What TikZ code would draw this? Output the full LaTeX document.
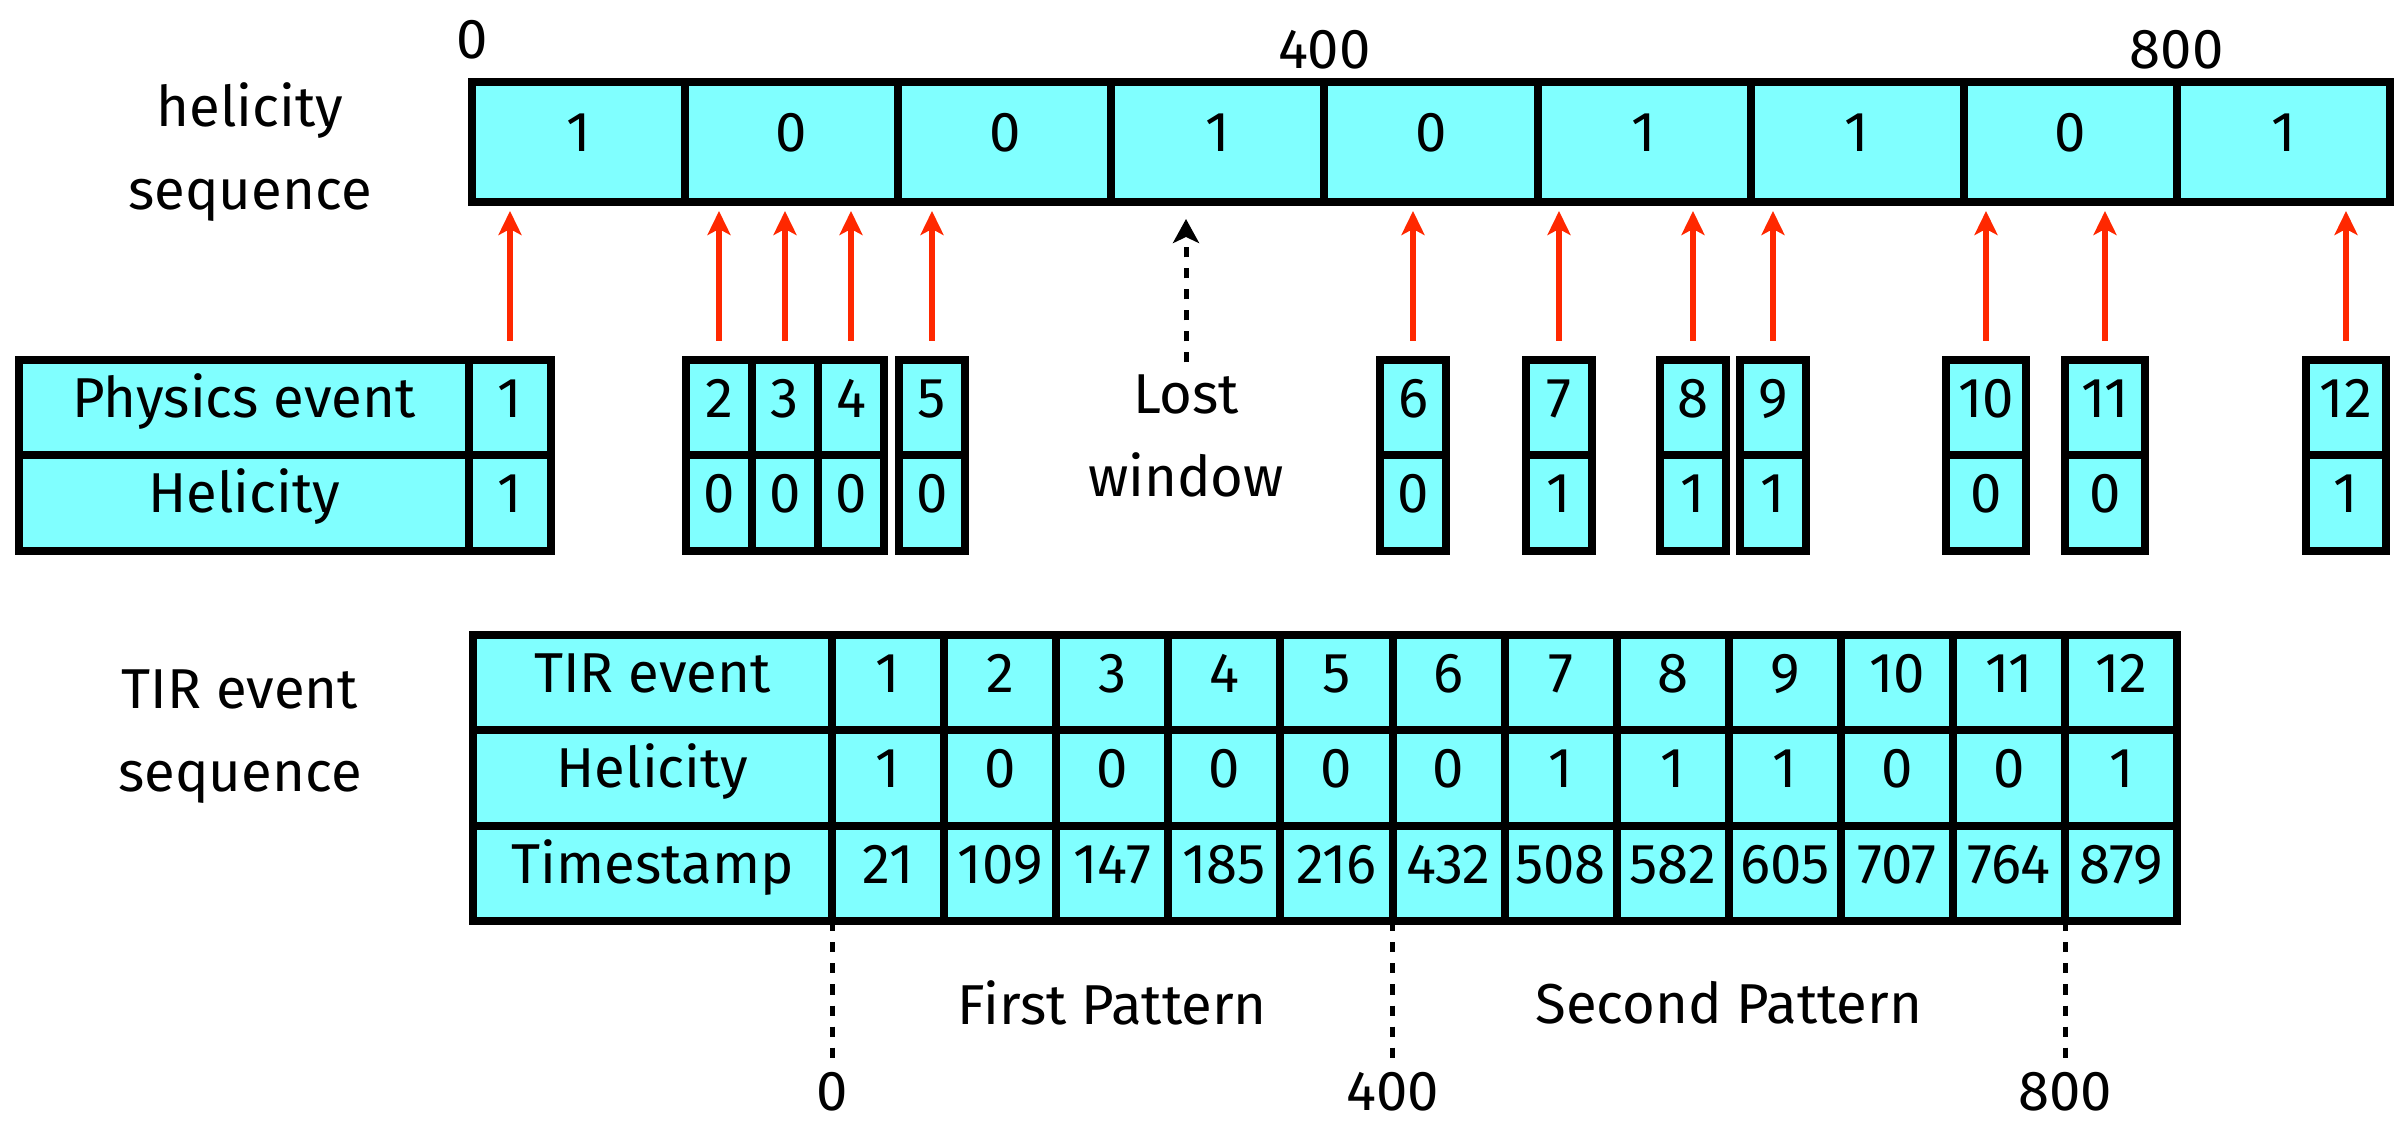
\documentclass[tikz,border=0pt]{standalone}
\usepackage{fontspec}
\setmainfont{Fira Sans}
\usetikzlibrary{positioning, arrows.meta, calc}

\definecolor{cellcyan}{RGB}{128,255,255}
\definecolor{hitred}{RGB}{255,40,0}

\tikzset{
    cell/.style = {
        rectangle, draw, fill=cellcyan,
        line width=0.08cm,
        outer sep=0pt, inner xsep=1pt,
        minimum height=0.955cm,
        text height=0.75em, text depth=0.2em,
        align=center
    },
    barcell/.style = {
        cell,
        minimum width=2.131cm,
        minimum height=1.2cm
    },
    digit/.style = {cell, minimum width=0.66cm},
    twodigit/.style = {cell, minimum width=0.80cm},
    tircell/.style = {cell, minimum width=1.121cm},
    rowlabel/.style = {cell, minimum width=4.5cm},
    tirlabel/.style = {cell, minimum width=3.59cm},
    hitarrow/.style = {
        -{Stealth[length=0.24cm, width=0.23cm, inset=0.06cm]},
        hitred, line width=0.06cm,
        shorten <=0.19cm, shorten >=0.09cm
    },
    lostarrow/.style = {
        -{Stealth[length=0.24cm, width=0.26cm, inset=0.06cm]},
        line width=0.05cm, dash pattern=on 0.10cm off 0.11cm,
        shorten >=0.17cm
    },
    marker/.style = {
        line width=0.05cm, dash pattern=on 0.10cm off 0.11cm
    },
    tick/.style = {inner ysep=2pt}
}

\begin{document}
\begin{tikzpicture}[font=\fontsize{16}{23.6}\selectfont]

\useasboundingbox (0,0) rectangle (24.07,-11.21);

% helicity sequence, one cell per window
\node (seq1) [barcell, anchor=west] at (4.72,-1.42) {1};
\node (seq2) [barcell, right=0pt of seq1] {0};
\node (seq3) [barcell, right=0pt of seq2] {0};
\node (seq4) [barcell, right=0pt of seq3] {1};
\node (seq5) [barcell, right=0pt of seq4] {0};
\node (seq6) [barcell, right=0pt of seq5] {1};
\node (seq7) [barcell, right=0pt of seq6] {1};
\node (seq8) [barcell, right=0pt of seq7] {0};
\node (seq9) [barcell, right=0pt of seq8] {1};

\node (at0) [above=0.10cm of seq1.north west] {0};
\node (at400) [above=0pt of seq4.north east] {400};
\node (at800) [above=0pt of seq8.north east] {800};
\node (seqlabel) [align=center] at (2.50,-1.52) {helicity\\sequence};

% physics events
\node (evlabel) [rowlabel, anchor=north west] at (0.19,-3.60) {Physics event};
\node (hellabel) [rowlabel, below=0pt of evlabel] {Helicity};
\node (ev1) [cell, minimum width=0.82cm, right=0pt of evlabel] {1};
\node (ev2) [digit, anchor=north] at (7.19,-3.60) {2};
\node (ev3) [digit, right=0pt of ev2] {3};
\node (ev4) [digit, right=0pt of ev3] {4};
\node (ev5) [digit, anchor=north] at (9.32,-3.60) {5};
\node (ev6) [digit, anchor=north] at (14.13,-3.60) {6};
\node (ev7) [digit, anchor=north] at (15.59,-3.60) {7};
\node (ev8) [digit, anchor=north] at (16.93,-3.60) {8};
\node (ev9) [digit, anchor=north] at (17.73,-3.60) {9};
\node (ev10) [twodigit, anchor=north] at (19.86,-3.60) {10};
\node (ev11) [twodigit, anchor=north] at (21.05,-3.60) {11};
\node (ev12) [twodigit, anchor=north] at (23.46,-3.60) {12};

\node (hel1) [cell, minimum width=0.82cm, below=0pt of ev1] {1};
\node (hel2) [digit, below=0pt of ev2] {0};
\node (hel3) [digit, below=0pt of ev3] {0};
\node (hel4) [digit, below=0pt of ev4] {0};
\node (hel5) [digit, below=0pt of ev5] {0};
\node (hel6) [digit, below=0pt of ev6] {0};
\node (hel7) [digit, below=0pt of ev7] {1};
\node (hel8) [digit, below=0pt of ev8] {1};
\node (hel9) [digit, below=0pt of ev9] {1};
\node (hel10) [twodigit, below=0pt of ev10] {0};
\node (hel11) [twodigit, below=0pt of ev11] {0};
\node (hel12) [twodigit, below=0pt of ev12] {1};

\node (lost) [align=center] at (11.86,-4.36) {Lost\\window};

\draw [hitarrow] (ev1.north) -- (ev1.north |- seq1.south);
\draw [hitarrow] (ev2.north) -- (ev2.north |- seq1.south);
\draw [hitarrow] (ev3.north) -- (ev3.north |- seq1.south);
\draw [hitarrow] (ev4.north) -- (ev4.north |- seq1.south);
\draw [hitarrow] (ev5.north) -- (ev5.north |- seq1.south);
\draw [hitarrow] (ev6.north) -- (ev6.north |- seq1.south);
\draw [hitarrow] (ev7.north) -- (ev7.north |- seq1.south);
\draw [hitarrow] (ev8.north) -- (ev8.north |- seq1.south);
\draw [hitarrow] (ev9.north) -- (ev9.north |- seq1.south);
\draw [hitarrow] (ev10.north) -- (ev10.north |- seq1.south);
\draw [hitarrow] (ev11.north) -- (ev11.north |- seq1.south);
\draw [hitarrow] (ev12.north) -- (ev12.north |- seq1.south);
\draw [lostarrow] (lost.north) -- (lost.north |- seq1.south);

% TIR event table
\node (tir0) [tirlabel, anchor=north west] at (4.73,-6.35) {TIR event};
\node (tir1) [tircell, right=0pt of tir0] {1};
\node (tir2) [tircell, right=0pt of tir1] {2};
\node (tir3) [tircell, right=0pt of tir2] {3};
\node (tir4) [tircell, right=0pt of tir3] {4};
\node (tir5) [tircell, right=0pt of tir4] {5};
\node (tir6) [tircell, right=0pt of tir5] {6};
\node (tir7) [tircell, right=0pt of tir6] {7};
\node (tir8) [tircell, right=0pt of tir7] {8};
\node (tir9) [tircell, right=0pt of tir8] {9};
\node (tir10) [tircell, right=0pt of tir9] {10};
\node (tir11) [tircell, right=0pt of tir10] {11};
\node (tir12) [tircell, right=0pt of tir11] {12};

\node (thel0) [tirlabel, below=0pt of tir0] {Helicity};
\node (thel1) [tircell, below=0pt of tir1] {1};
\node (thel2) [tircell, below=0pt of tir2] {0};
\node (thel3) [tircell, below=0pt of tir3] {0};
\node (thel4) [tircell, below=0pt of tir4] {0};
\node (thel5) [tircell, below=0pt of tir5] {0};
\node (thel6) [tircell, below=0pt of tir6] {0};
\node (thel7) [tircell, below=0pt of tir7] {1};
\node (thel8) [tircell, below=0pt of tir8] {1};
\node (thel9) [tircell, below=0pt of tir9] {1};
\node (thel10) [tircell, below=0pt of tir10] {0};
\node (thel11) [tircell, below=0pt of tir11] {0};
\node (thel12) [tircell, below=0pt of tir12] {1};

\node (ts0) [tirlabel, below=0pt of thel0] {Timestamp};
\node (ts1) [tircell, below=0pt of thel1] {21};
\node (ts2) [tircell, below=0pt of thel2] {109};
\node (ts3) [tircell, below=0pt of thel3] {147};
\node (ts4) [tircell, below=0pt of thel4] {185};
\node (ts5) [tircell, below=0pt of thel5] {216};
\node (ts6) [tircell, below=0pt of thel6] {432};
\node (ts7) [tircell, below=0pt of thel7] {508};
\node (ts8) [tircell, below=0pt of thel8] {582};
\node (ts9) [tircell, below=0pt of thel9] {605};
\node (ts10) [tircell, below=0pt of thel10] {707};
\node (ts11) [tircell, below=0pt of thel11] {764};
\node (ts12) [tircell, below=0pt of thel12] {879};

\node (tirlabel) [align=center] at (2.40,-7.37) {TIR event\\sequence};

% pattern boundaries
\node (b0) [tick, below=1.43cm of ts0.south east] {0};
\node (b400) [tick, below=1.43cm of ts5.south east] {400};
\node (b800) [tick, below=1.43cm of ts11.south east] {800};
\draw [marker] (ts0.south east) -- (b0);
\draw [marker] (ts5.south east) -- (b400);
\draw [marker] (ts11.south east) -- (b800);

\node (first) at ($(ts0.south east)!0.5!(ts5.south east) + (0,-0.81)$) {First Pattern};
\node (second) at ($(ts5.south east)!0.5!(ts11.south east) + (0,-0.81)$) {Second Pattern};

\end{tikzpicture}
\end{document}
